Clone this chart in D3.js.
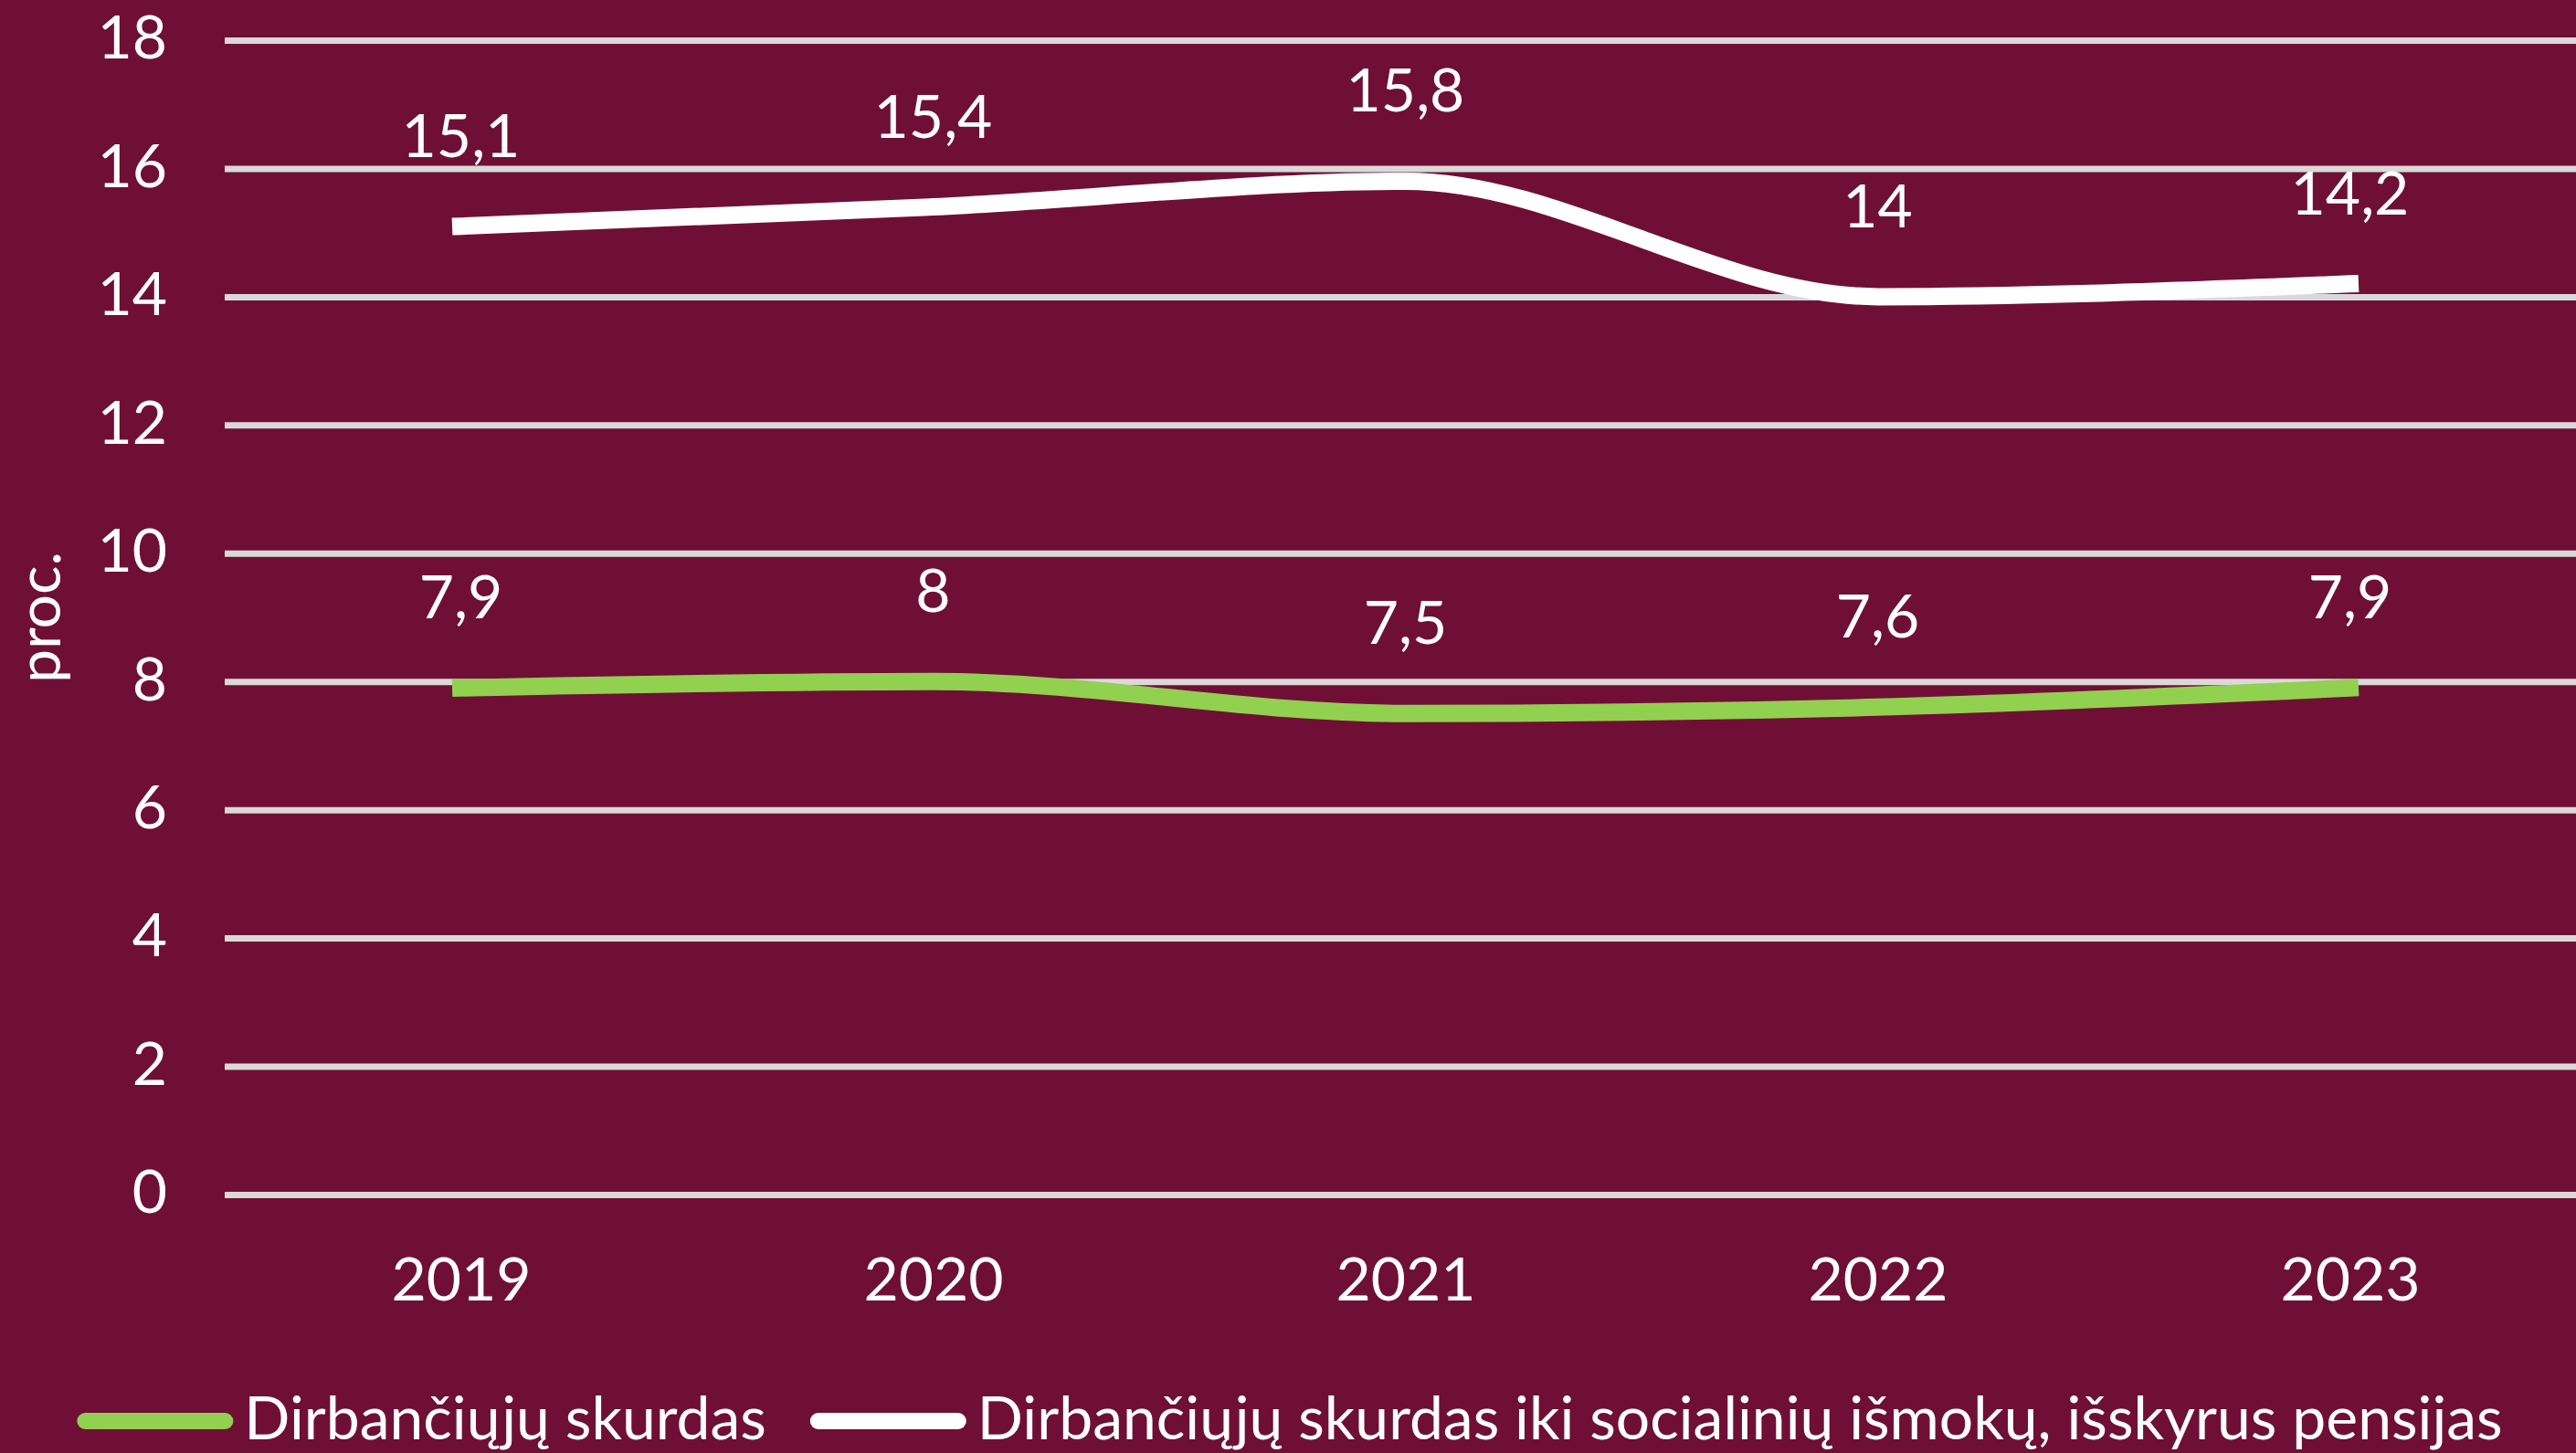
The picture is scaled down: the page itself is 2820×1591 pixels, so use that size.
<!DOCTYPE html>
<html>
<head>
<meta charset="utf-8">
<script src="https://cdn.jsdelivr.net/npm/d3@7"></script>
<style>
  html, body { margin: 0; padding: 0; background: #700f36; }
  svg { display: block; }
  text { font-family: Lato, "Open Sans", sans-serif; fill: #ffffff; }
</style>
</head>
<body>
<div id="chart"></div>
<script>
'use strict'

var years = ["2019", "2020", "2021", "2022", "2023"];
var poverty = [7.9, 8, 7.5, 7.6, 7.9];
var povertyBeforeTransfers = [15.1, 15.4, 15.8, 14, 14.2];
var yTicks = [0, 2, 4, 6, 8, 10, 12, 14, 16, 18];
var seriesNames = [
    "Dirbančiųjų skurdas",
    "Dirbančiųjų skurdas iki socialinių išmokų, išskyrus pensijas"
];
var seriesColors = ["#92d050", "#ffffff"];

var chartW = 2820, chartH = 1591,
    plotLeft = 246, plotRight = 2831, plotTop = 44, plotBottom = 1308,
    fontSize = 66;

var svg = d3.select("#chart").append("svg")
    .attr("width", chartW).attr("height", chartH);

svg.append("rect").attr("width", chartW).attr("height", chartH).attr("fill", "#700f36");

var x = d3.scalePoint().domain(years).range([plotLeft, plotRight]).padding(0.5);
var y = d3.scaleLinear().domain([0, 18]).range([plotBottom, plotTop]);

// gridlines + y labels
var yAxis = svg.append("g")
    .attr("transform", "translate(" + plotLeft + ",0)")
    .call(d3.axisLeft(y).tickValues(yTicks).tickSize(-(chartW - plotLeft)).tickPadding(63));
yAxis.select(".domain").remove();
yAxis.selectAll(".tick line").attr("stroke", "#d9d9d9").attr("stroke-width", 7);
yAxis.selectAll(".tick text")
    .attr("fill", "#ffffff").attr("font-size", fontSize)
    .attr("font-family", "Lato, 'Open Sans', sans-serif")
    .attr("dy", "0.3em");

// x labels
var xAxis = svg.append("g")
    .attr("transform", "translate(0," + plotBottom + ")")
    .call(d3.axisBottom(x).tickSize(0).tickPadding(0));
xAxis.select(".domain").remove();
xAxis.selectAll(".tick text")
    .attr("fill", "#ffffff").attr("font-size", fontSize)
    .attr("font-family", "Lato, 'Open Sans', sans-serif")
    .attr("dy", null).attr("y", 116);

// axis title
svg.append("text")
    .attr("transform", "translate(66," + ((plotTop + plotBottom) / 2) + ") rotate(-90)")
    .attr("text-anchor", "middle")
    .attr("font-size", fontSize)
    .text("proc.");

var line = d3.line()
    .x(function(d, i) { return x(years[i]); })
    .y(function(d) { return y(d); })
    .curve(d3.curveMonotoneX);

var series = [poverty, povertyBeforeTransfers];

series.forEach(function(values, k) {
    svg.append("path")
        .datum(values)
        .attr("d", line)
        .attr("fill", "none")
        .attr("stroke", seriesColors[k])
        .attr("stroke-width", 19)
        .attr("stroke-linecap", "square")
        .attr("stroke-linejoin", "round");

    svg.append("g").selectAll("text")
        .data(values)
        .enter()
        .append("text")
        .attr("x", function(d, i) { return x(years[i]); })
        .attr("y", function(d) { return y(d) - 76; })
        .attr("text-anchor", "middle")
        .attr("font-size", fontSize)
        .text(function(d) { return String(d).replace(".", ","); });
});

// legend, centred under the chart
var legend = svg.append("g");
var legendY = 1556, swatch = 171, gapText = 12, gapItem = 48;
var cursor = 0;
seriesNames.forEach(function(name, k) {
    var item = legend.append("g").attr("transform", "translate(" + cursor + ",0)");
    item.append("line")
        .attr("x1", 9).attr("x2", swatch - 9)
        .attr("y1", legendY).attr("y2", legendY)
        .attr("stroke", seriesColors[k])
        .attr("stroke-width", 18)
        .attr("stroke-linecap", "round");
    var t = item.append("text")
        .attr("x", swatch + gapText)
        .attr("y", legendY + 20)
        .attr("font-size", fontSize)
        .text(name);
    cursor += swatch + gapText + t.node().getComputedTextLength() + gapItem;
});
cursor -= gapItem;
legend.attr("transform", "translate(" + ((chartW - cursor) / 2 + 2) + ",0)");
</script>
</body>
</html>
